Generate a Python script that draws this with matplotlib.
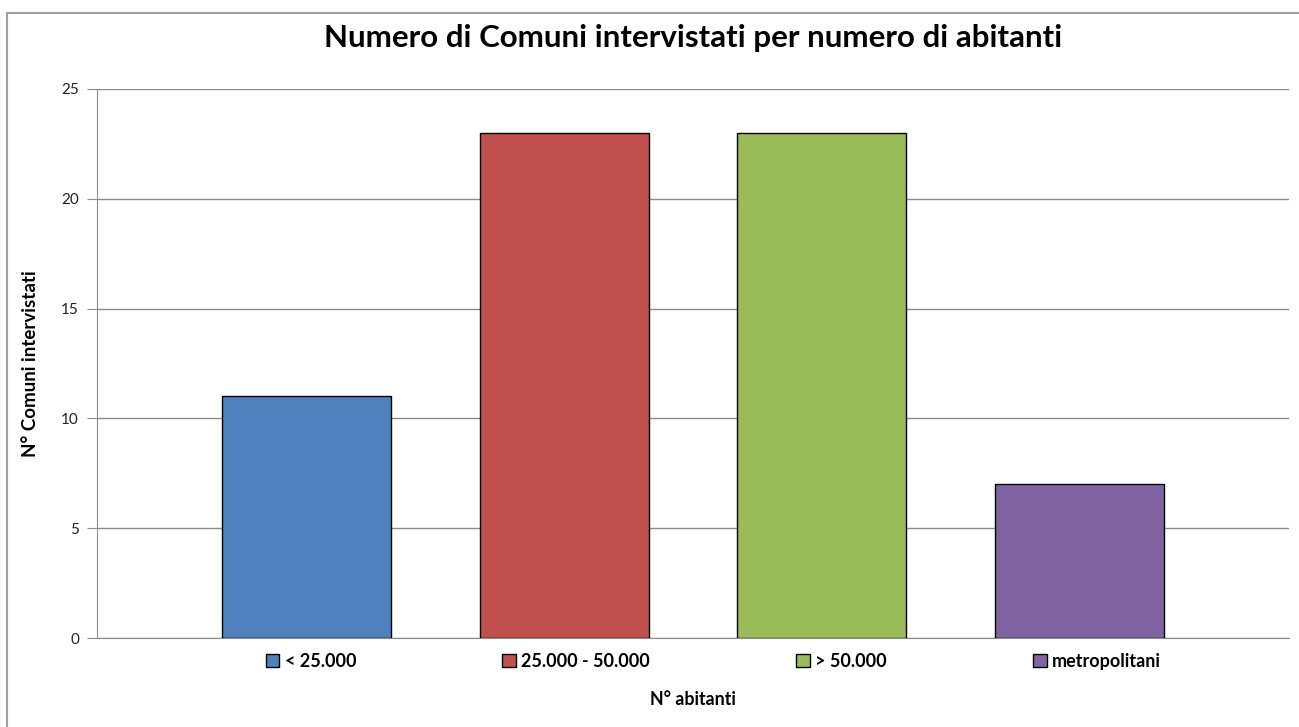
import matplotlib
matplotlib.use('Agg')
import matplotlib.pyplot as plt
from matplotlib.patches import Rectangle, Patch

# dati
categorie = ['< 25.000', '25.000 - 50.000', '> 50.000', 'metropolitani']
comuni = [11, 23, 23, 7]
colori = ['#4F81BD', '#C0504D', '#9BBB59', '#8064A2']
yticks = [0, 5, 10, 15, 20, 25]

plt.rcParams['font.family'] = ['Lato', 'DejaVu Sans']

fig = plt.figure(figsize=(12.99, 7.27), dpi=100)
ax = fig.add_axes([0.0747, 0.1224, 0.9176, 0.7552])

# cornice del grafico
fig.add_artist(Rectangle((0.0054, -0.1), 1.2, 1.082, transform=fig.transFigure,
                         fill=False, edgecolor='#a0a0a0', linewidth=1.5))

x = list(range(len(categorie)))
ax.bar(x, comuni, width=0.656, color=colori, edgecolor='black', linewidth=1, zorder=3)

ax.set_xlim(-0.8136, 3.815)
ax.set_ylim(0, 25)
ax.set_yticks(yticks)
ax.set_xticks([])
ax.yaxis.grid(True, color='#8c8c8c', linewidth=1, zorder=0)
for s in ['top', 'right']:
    ax.spines[s].set_visible(False)
ax.spines['left'].set_color('#8c8c8c')
ax.spines['bottom'].set_color('#8c8c8c')
ax.tick_params(axis='y', direction='out', length=7, color='#8c8c8c',
               labelsize=11, labelcolor='#222222', pad=6)

ax.set_title('Numero di Comuni intervistati per numero di abitanti',
             fontsize=22.5, fontweight='bold', pad=30)
ax.set_ylabel('N° Comuni intervistati', fontsize=13.5, fontweight='bold', labelpad=16)
ax.set_xlabel('N° abitanti', fontsize=12.8, fontweight='bold', labelpad=38)

handles = [Patch(facecolor=c, edgecolor='black', linewidth=1) for c in colori]
ax.legend(handles, categorie, ncol=4, loc='center', bbox_to_anchor=(0.517, -0.042),
          frameon=False, handlelength=0.75, handleheight=0.75,
          handletextpad=0.3, columnspacing=8.1, prop={'weight': 'bold', 'size': 13})

fig.savefig('out.png', dpi=100)
